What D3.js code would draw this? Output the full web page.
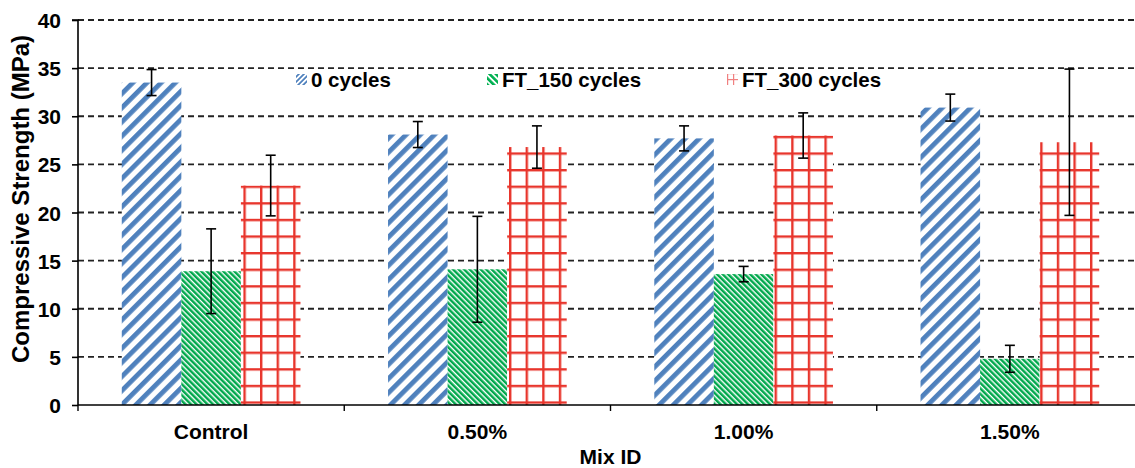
<!DOCTYPE html>
<html>
<head>
<meta charset="utf-8">
<script src="https://cdn.jsdelivr.net/npm/d3@7"></script>
<style>
  html, body { margin: 0; padding: 0; background: #fff; }
  svg { display: block; }
  text { font-family: "Liberation Sans", Arial, sans-serif; font-weight: bold; fill: #000; }
</style>
</head>
<body>
<svg id="chart" width="1135" height="468"></svg>
<script>
// ---- data ----
const categories = ["Control", "0.50%", "1.00%", "1.50%"];
const seriesNames = ["0 cycles", "FT_150 cycles", "FT_300 cycles"];
const values0   = [33.5, 28.1, 27.7, 30.9];
const values150 = [13.9, 14.1, 13.6, 4.8];
const values300 = [22.8, 26.8, 28.0, 27.3];
const err0   = [1.35, 1.35, 1.3, 1.4];
const err150 = [4.4, 5.5, 0.8, 1.4];
const err300 = [3.15, 2.2, 2.35, 7.6];
const yTicks = [0, 5, 10, 15, 20, 25, 30, 35, 40];

const seriesValues = [values0, values150, values300];
const seriesErrors = [err0, err150, err300];

const svg = d3.select("#chart");
const W = 1135, H = 468;
const x0 = 78, x1 = 1143, yTop = 20, yBot = 405;

const x = d3.scaleBand().domain(categories).range([x0, x1]).paddingInner(0).paddingOuter(0);
const xs = d3.scaleBand().domain(seriesNames).range([0, x.bandwidth()]).paddingInner(0).paddingOuter(0.735);
const y = d3.scaleLinear().domain([0, 40]).range([yBot, yTop]);

// ---- patterns ----
const defs = svg.append("defs");
const pBlue = defs.append("pattern").attr("id", "pBlue").attr("patternUnits", "userSpaceOnUse")
  .attr("width", 10).attr("height", 10).attr("patternTransform", "rotate(45)");
pBlue.append("rect").attr("width", 10).attr("height", 10).attr("fill", "#fff");
pBlue.append("rect").attr("x", 0).attr("width", 4.8).attr("height", 10).attr("fill", "#4F81BD");

const pGreen = defs.append("pattern").attr("id", "pGreen").attr("patternUnits", "userSpaceOnUse")
  .attr("width", 3.9).attr("height", 10).attr("patternTransform", "rotate(-45)");
pGreen.append("rect").attr("width", 3.9).attr("height", 10).attr("fill", "#fff");
pGreen.append("rect").attr("x", 0).attr("width", 2.5).attr("height", 10).attr("fill", "#00A84C");

const pRed = defs.append("pattern").attr("id", "pRed").attr("patternUnits", "userSpaceOnUse")
  .attr("width", 16.6).attr("height", 16.6).attr("x", 11).attr("y", 3);
pRed.append("rect").attr("width", 16.6).attr("height", 16.6).attr("fill", "#fff");
pRed.append("rect").attr("x", 0).attr("y", 0).attr("width", 2.4).attr("height", 16.6).attr("fill", "#E8352C");
pRed.append("rect").attr("x", 0).attr("y", 0).attr("width", 16.6).attr("height", 2.4).attr("fill", "#E8352C");

// legend small patterns
const lpBlue = defs.append("pattern").attr("id", "lpBlue").attr("patternUnits", "userSpaceOnUse")
  .attr("width", 3.6).attr("height", 10).attr("patternTransform", "rotate(45)");
lpBlue.append("rect").attr("width", 3.6).attr("height", 10).attr("fill", "#fff");
lpBlue.append("rect").attr("width", 1.8).attr("height", 10).attr("fill", "#4F81BD");
const lpGreen = defs.append("pattern").attr("id", "lpGreen").attr("patternUnits", "userSpaceOnUse")
  .attr("width", 4.5).attr("height", 10).attr("patternTransform", "rotate(-45)");
lpGreen.append("rect").attr("width", 4.5).attr("height", 10).attr("fill", "#fff");
lpGreen.append("rect").attr("width", 2.6).attr("height", 10).attr("fill", "#00B050");
const lpRed = defs.append("pattern").attr("id", "lpRed").attr("patternUnits", "userSpaceOnUse")
  .attr("width", 6).attr("height", 6).attr("x", 1).attr("y", 1);
lpRed.append("rect").attr("width", 6).attr("height", 6).attr("fill", "#fff");
lpRed.append("rect").attr("width", 1.2).attr("height", 6).attr("fill", "#F08080");
lpRed.append("rect").attr("width", 6).attr("height", 1.2).attr("fill", "#F08080");

const fills = ["url(#pBlue)", "url(#pGreen)", "url(#pRed)"];
const legendFills = ["url(#lpBlue)", "url(#lpGreen)", "url(#lpRed)"];

// ---- gridlines ----
svg.append("g").selectAll("line").data(yTicks.filter(d => d > 0)).join("line")
  .attr("x1", x0).attr("x2", W).attr("y1", d => y(d)).attr("y2", d => y(d))
  .attr("stroke", "#222").attr("stroke-width", 1.8).attr("stroke-dasharray", "6,4");

// ---- bars ----
seriesNames.forEach((s, si) => {
  const g = svg.append("g");
  g.selectAll("rect").data(categories).join("rect")
    .attr("x", c => x(c) + xs(s))
    .attr("width", xs.bandwidth())
    .attr("y", (c, i) => y(seriesValues[si][i]))
    .attr("height", (c, i) => y(0) - y(seriesValues[si][i]))
    .attr("fill", fills[si]);
});

// ---- error bars ----
seriesNames.forEach((s, si) => {
  const g = svg.append("g").attr("stroke", "#000").attr("stroke-width", 1.6);
  categories.forEach((c, i) => {
    const cx = x(c) + xs(s) + xs.bandwidth() / 2;
    const v = seriesValues[si][i], e = seriesErrors[si][i];
    g.append("line").attr("x1", cx).attr("x2", cx).attr("y1", y(v - e)).attr("y2", y(v + e));
    g.append("line").attr("x1", cx - 5).attr("x2", cx + 5).attr("y1", y(v - e)).attr("y2", y(v - e));
    g.append("line").attr("x1", cx - 5).attr("x2", cx + 5).attr("y1", y(v + e)).attr("y2", y(v + e));
  });
});

// ---- axes ----
const yAxis = d3.axisLeft(y).tickValues(yTicks).tickSize(6).tickPadding(11);
const gy = svg.append("g").attr("transform", `translate(${x0},0)`).call(yAxis);
gy.select(".domain").attr("stroke", "#000").attr("stroke-width", 1.6).attr("d", `M-6,${yTop}H0V${yBot}`);
gy.selectAll(".tick line").attr("stroke", "#000").attr("stroke-width", 1.6);
gy.selectAll(".tick text").style("font-size", "21px").style("font-family", "'Liberation Sans', Arial, sans-serif").style("font-weight", "bold").attr("dy", "0.36em");

const gx = svg.append("g").attr("transform", `translate(0,${yBot})`);
gx.append("line").attr("x1", x0).attr("x2", W).attr("y1", 0).attr("y2", 0).attr("stroke", "#000").attr("stroke-width", 1.6);
const bounds = categories.map(c => x(c)).concat([x1]);
gx.selectAll("line.tk").data(bounds).join("line").attr("class", "tk")
  .attr("x1", d => d).attr("x2", d => d).attr("y1", 0).attr("y2", 6)
  .attr("stroke", "#000").attr("stroke-width", 1.4);
gx.selectAll("text").data(categories).join("text")
  .attr("x", c => x(c) + x.bandwidth() / 2).attr("y", 34)
  .attr("text-anchor", "middle").style("font-size", "21px").text(c => c);

// ---- axis titles ----
svg.append("text").attr("x", (x0 + x1) / 2).attr("y", 464)
  .attr("text-anchor", "middle").style("font-size", "21px").text("Mix ID");
svg.append("text").attr("transform", `translate(29,199) rotate(-90)`)
  .attr("text-anchor", "middle").style("font-size", "24px").text("Compressive Strength (MPa)");

// ---- legend ----
const legendX = [296, 487, 727];
const lg = svg.append("g");
seriesNames.forEach((s, i) => {
  lg.append("rect").attr("x", legendX[i]).attr("y", 74).attr("width", 11).attr("height", 11).attr("fill", legendFills[i]);
  lg.append("text").attr("x", legendX[i] + 15).attr("y", 87).style("font-size", "20.5px").text(s);
});
</script>
</body>
</html>
